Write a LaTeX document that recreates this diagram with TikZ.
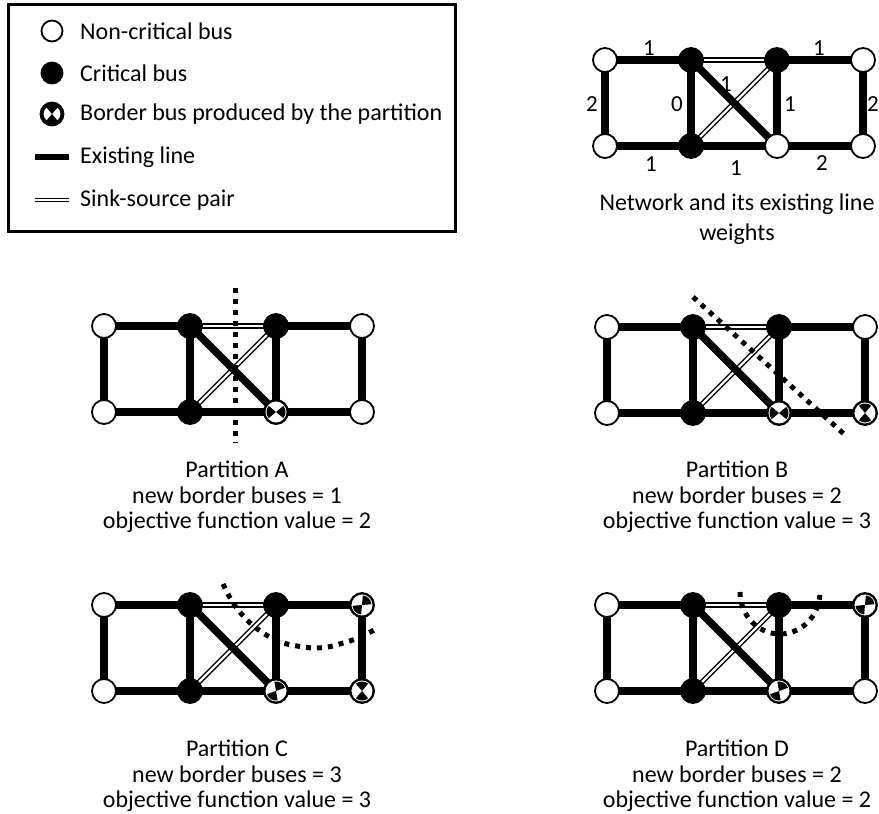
\documentclass[tikz,border=0pt]{standalone}
\usepackage{fontspec}
\setmainfont{Carlito}
\pgfdeclarelayer{bg}
\pgfsetlayers{bg,main}
\tikzset{
 bus/.style={circle, draw, line width=1.8pt, minimum size=24pt, inner sep=0pt, fill=white},
 crit/.style={bus, fill=black},
 exline/.style={line width=7.5pt},
 sspair/.style={draw=black, line width=1.4pt, double=white, double distance=2.4pt},
 cutline/.style={line width=5pt, dash pattern=on 5pt off 6pt},
 lbl/.style={font=\fontsize{23}{25}\selectfont, inner sep=0pt},
 captext/.style={font=\fontsize{24}{25.5}\selectfont, align=center, inner sep=0pt},
 legtext/.style={font=\fontsize{24}{26}\selectfont, inner sep=0pt, anchor=west},
}
\newcommand\netw[3]{%
\begin{scope}[shift={(#2,#3)}]
\node[bus] (#1n1) at (0,0) {};
\node[crit] (#1n2) at (86,0) {};
\node[crit] (#1n3) at (172,0) {};
\node[bus] (#1n4) at (258,0) {};
\node[bus] (#1n5) at (0,86) {};
\node[crit] (#1n6) at (86,86) {};
\node[bus] (#1n7) at (172,86) {};
\node[bus] (#1n8) at (258,86) {};
\begin{pgfonlayer}{bg}
\draw[sspair] (#1n2.center) -- (#1n3.center);
\draw[sspair] (#1n6.center) -- (#1n3.center);
\draw[exline] (#1n1.center) -- (#1n2.center);
\draw[exline] (#1n3.center) -- (#1n4.center);
\draw[exline] (#1n1.center) -- (#1n5.center);
\draw[exline] (#1n2.center) -- (#1n6.center);
\draw[exline] (#1n3.center) -- (#1n7.center);
\draw[exline] (#1n4.center) -- (#1n8.center);
\draw[exline] (#1n5.center) -- (#1n6.center);
\draw[exline] (#1n6.center) -- (#1n7.center);
\draw[exline] (#1n7.center) -- (#1n8.center);
\draw[exline] (#1n2.center) -- (#1n7.center);
\end{pgfonlayer}
\end{scope}}
% border bus glyph: #1 = position, #2 = orientation
\newcommand\bbus[2]{%
\begin{scope}[shift={(#1)}]
\fill[white] (0,0) circle (11.5pt);
\fill[black] (0,0) -- (#2-40:9.5pt) arc[start angle=#2-40, end angle=#2+40, radius=9.5pt] -- cycle;
\fill[black] (0,0) -- (#2+140:9.5pt) arc[start angle=#2+140, end angle=#2+220, radius=9.5pt] -- cycle;
\draw[line width=1.8pt] (0,0) circle (11.5pt);
\end{scope}}
\begin{document}
\begin{tikzpicture}[x=1pt,y=-1pt]
\useasboundingbox (0,0) rectangle (879,814);
% legend
\draw[line width=3pt] (8.5,4.5) rectangle (455.5,231.5);
\node[bus, minimum size=21pt] (lg1) at (52,31) {};
\node[crit, minimum size=21pt] (lg2) at (52,73) {};
\coordinate (lg3) at (52,114);
\bbus{lg3}{90}
\draw[line width=3pt] (lg3) circle (10pt);
\coordinate (lg4a) at (35,157); \coordinate (lg4b) at (69,157);
\draw[line width=6pt] (lg4a) -- (lg4b);
\coordinate (lg5a) at (35,200); \coordinate (lg5b) at (69,200);
\draw[sspair, line width=1.2pt, double distance=2pt] (lg5a) -- (lg5b);
\node[legtext] (lt1) at (80,31) {Non-critical bus};
\node[legtext] (lt2) at (80,73) {Critical bus};
\node[legtext] (lt3) at (80,114) {Border bus produced by the partition};
\node[legtext] (lt4) at (80,157) {Existing line};
\node[legtext] (lt5) at (80,200) {Sink-source pair};
% main network
\netw{N}{605}{60}
\node[lbl] (w1) at (649,48) {1};
\node[lbl] (w2) at (819,48) {1};
\node[lbl] (w3) at (592,104) {2};
\node[lbl] (w4) at (677,104) {0};
\node[lbl] (w5) at (726,84) {1};
\node[lbl] (w6) at (790,104) {1};
\node[lbl] (w7) at (873,104) {2};
\node[lbl] (w8) at (651,164) {1};
\node[lbl] (w9) at (736,168) {1};
\node[lbl] (w10) at (822,163) {2};
\node[captext] (capN) at (737,219) {Network and its existing line\\[5pt]weights};
% partition A
\netw{A}{104}{326}
\bbus{An7}{0}
\coordinate (cA1) at (235,288); \coordinate (cA2) at (235,443);
\draw[cutline] (cA1) -- (cA2);
\node[captext] (capA) at (237,497) {Partition A\\new border buses = 1\\objective function value = 2};
% partition B
\netw{B}{607}{327}
\bbus{Bn7}{0}
\bbus{Bn8}{90}
\coordinate (cB1) at (693,297); \coordinate (cB2) at (845,435);
\draw[cutline] (cB1) -- (cB2);
\node[captext] (capB) at (737,497) {Partition B\\new border buses = 2\\objective function value = 3};
% partition C
\netw{C}{104}{605}
\bbus{Cn4}{45}
\bbus{Cn7}{60}
\bbus{Cn8}{90}
\draw[cutline] plot[smooth] coordinates {(223,584) (233,603) (247,620) (263,633) (280,642) (297,646) (313,648) (328,647) (343,643) (358,638) (378,628)};
\node[captext] (capC) at (237,776) {Partition C\\new border buses = 3\\objective function value = 3};
% partition D
\netw{D}{607}{605}
\bbus{Dn4}{45}
\bbus{Dn7}{60}
\draw[cutline] plot[domain=180:0, samples=40] ({780+40*cos(\x)}, {592+42*sin(\x)});
\node[captext] (capD) at (737,776) {Partition D\\new border buses = 2\\objective function value = 2};
\end{tikzpicture}
\end{document}
